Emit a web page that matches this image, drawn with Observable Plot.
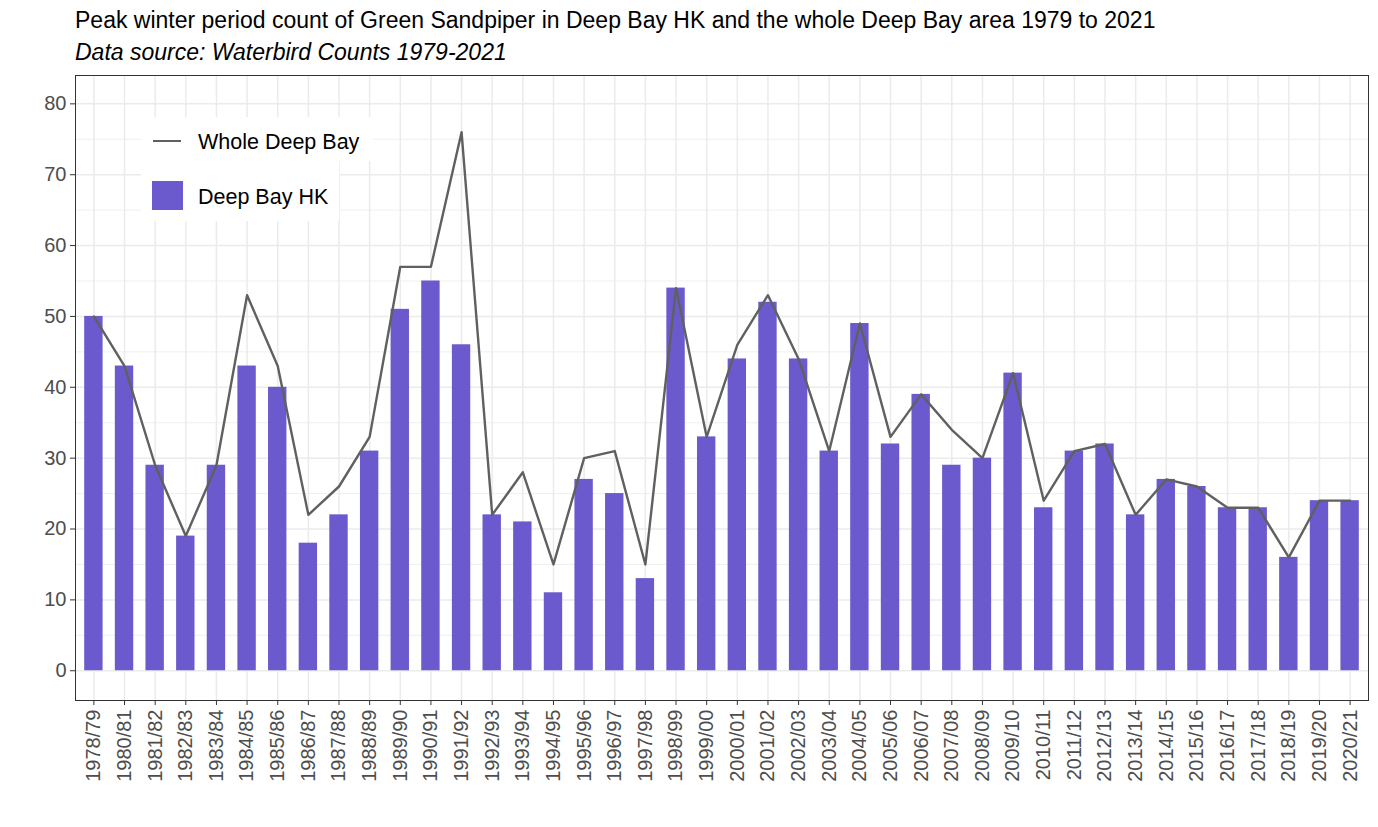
<!DOCTYPE html>
<html>
<head>
<meta charset="utf-8">
<script src="https://cdn.jsdelivr.net/npm/d3@7"></script>
<script src="https://cdn.jsdelivr.net/npm/@observablehq/plot@0.6"></script>
<style>
  html, body { margin: 0; padding: 0; background: #fff; }
  body { width: 1378px; height: 827px; position: relative; overflow: hidden; font-family: "Liberation Sans", Arial, sans-serif; }
  #chart { position: absolute; left: 0; top: 0; }
  #chart svg text { fill: #4d4d4d; }
  .title { position: absolute; left: 75px; top: 7px; font-size: 23px; line-height: 1.15; color: #000; white-space: nowrap; }
  .subtitle { position: absolute; left: 75px; top: 39px; font-size: 23px; line-height: 1.15; font-style: italic; color: #000; white-space: nowrap; }
  .lg { position: absolute; background: #fff; }
  .lgtext { position: absolute; font-size: 21.5px; color: #000; white-space: nowrap; line-height: 1; }
</style>
</head>
<body>
<div id="chart"></div>
<div class="title">Peak winter period count of Green Sandpiper in Deep Bay HK and the whole Deep Bay area 1979 to 2021</div>
<div class="subtitle">Data source: Waterbird Counts 1979-2021</div>
<div id="legend"></div>
<script>
const seasons = ["1978/79","1980/81","1981/82","1982/83","1983/84","1984/85","1985/86","1986/87","1987/88","1988/89",
  "1989/90","1990/91","1991/92","1992/93","1993/94","1994/95","1995/96","1996/97","1997/98","1998/99",
  "1999/00","2000/01","2001/02","2002/03","2003/04","2004/05","2005/06","2006/07","2007/08","2008/09",
  "2009/10","2010/11","2011/12","2012/13","2013/14","2014/15","2015/16","2016/17","2017/18","2018/19",
  "2019/20","2020/21"];
const deepBayHK = [50,43,29,19,29,43,40,18,22,31,
  51,55,46,22,21,11,27,25,13,54,
  33,44,52,44,31,49,32,39,29,30,
  42,23,31,32,22,27,26,23,23,16,
  24,24];
const wholeDeepBay = [50,43,29,19,29,53,43,22,26,33,
  57,57,76,22,28,15,30,31,15,54,
  33,46,53,44,31,49,33,39,34,30,
  42,24,31,32,22,27,26,23,23,16,
  24,24];
const yTicks = [0,10,20,30,40,50,60,70,80];
const yMinor = [5,15,25,35,45,55,65,75];
const seriesNames = ["Whole Deep Bay", "Deep Bay HK"];
const barColor = "#6A5ACD";
const lineColor = "#606060";

const data = seasons.map((s, i) => ({season: s, hk: deepBayHK[i], whole: wholeDeepBay[i]}));

const chart = Plot.plot({
  width: 1378,
  height: 827,
  marginTop: 75,
  marginBottom: 127,
  marginLeft: 75,
  marginRight: 10,
  style: {fontFamily: "'Liberation Sans', Arial, sans-serif", fontSize: "20px", color: "#333", background: "#fff"},
  x: {type: "band", domain: seasons, paddingInner: 0.4, paddingOuter: 0.3, round: false, tickRotate: -90, tickSize: 5, tickPadding: 4, label: null},
  y: {domain: [-4.2, 84], ticks: yTicks, tickSize: 5, tickPadding: 4, label: null},
  marks: [
    Plot.ruleY(yMinor, {stroke: "#ebebeb", strokeWidth: 0.8}),
    Plot.ruleY(yTicks, {stroke: "#ebebeb", strokeWidth: 1.5}),
    Plot.ruleX(seasons, {stroke: "#ebebeb", strokeWidth: 1.5}),
    Plot.barY(data, {x: "season", y: "hk", fill: barColor}),
    Plot.lineY(data, {x: "season", y: "whole", stroke: lineColor, strokeWidth: 2.4}),
    Plot.frame({stroke: "#333", strokeWidth: 1})
  ]
});
document.getElementById("chart").appendChild(chart);

const lg = document.getElementById("legend");
lg.innerHTML = `
  <div class="lg" style="left:141px;top:117px;width:232px;height:44px;"></div>
  <div class="lg" style="left:141px;top:161px;width:198px;height:60px;"></div>
  <div style="position:absolute;left:153px;top:140px;width:28px;height:2.4px;background:${lineColor};"></div>
  <div class="lgtext" style="left:198px;top:132px;">${seriesNames[0]}</div>
  <div style="position:absolute;left:152px;top:181px;width:31px;height:29px;background:${barColor};"></div>
  <div class="lgtext" style="left:198px;top:187px;">${seriesNames[1]}</div>
`;
</script>
</body>
</html>
